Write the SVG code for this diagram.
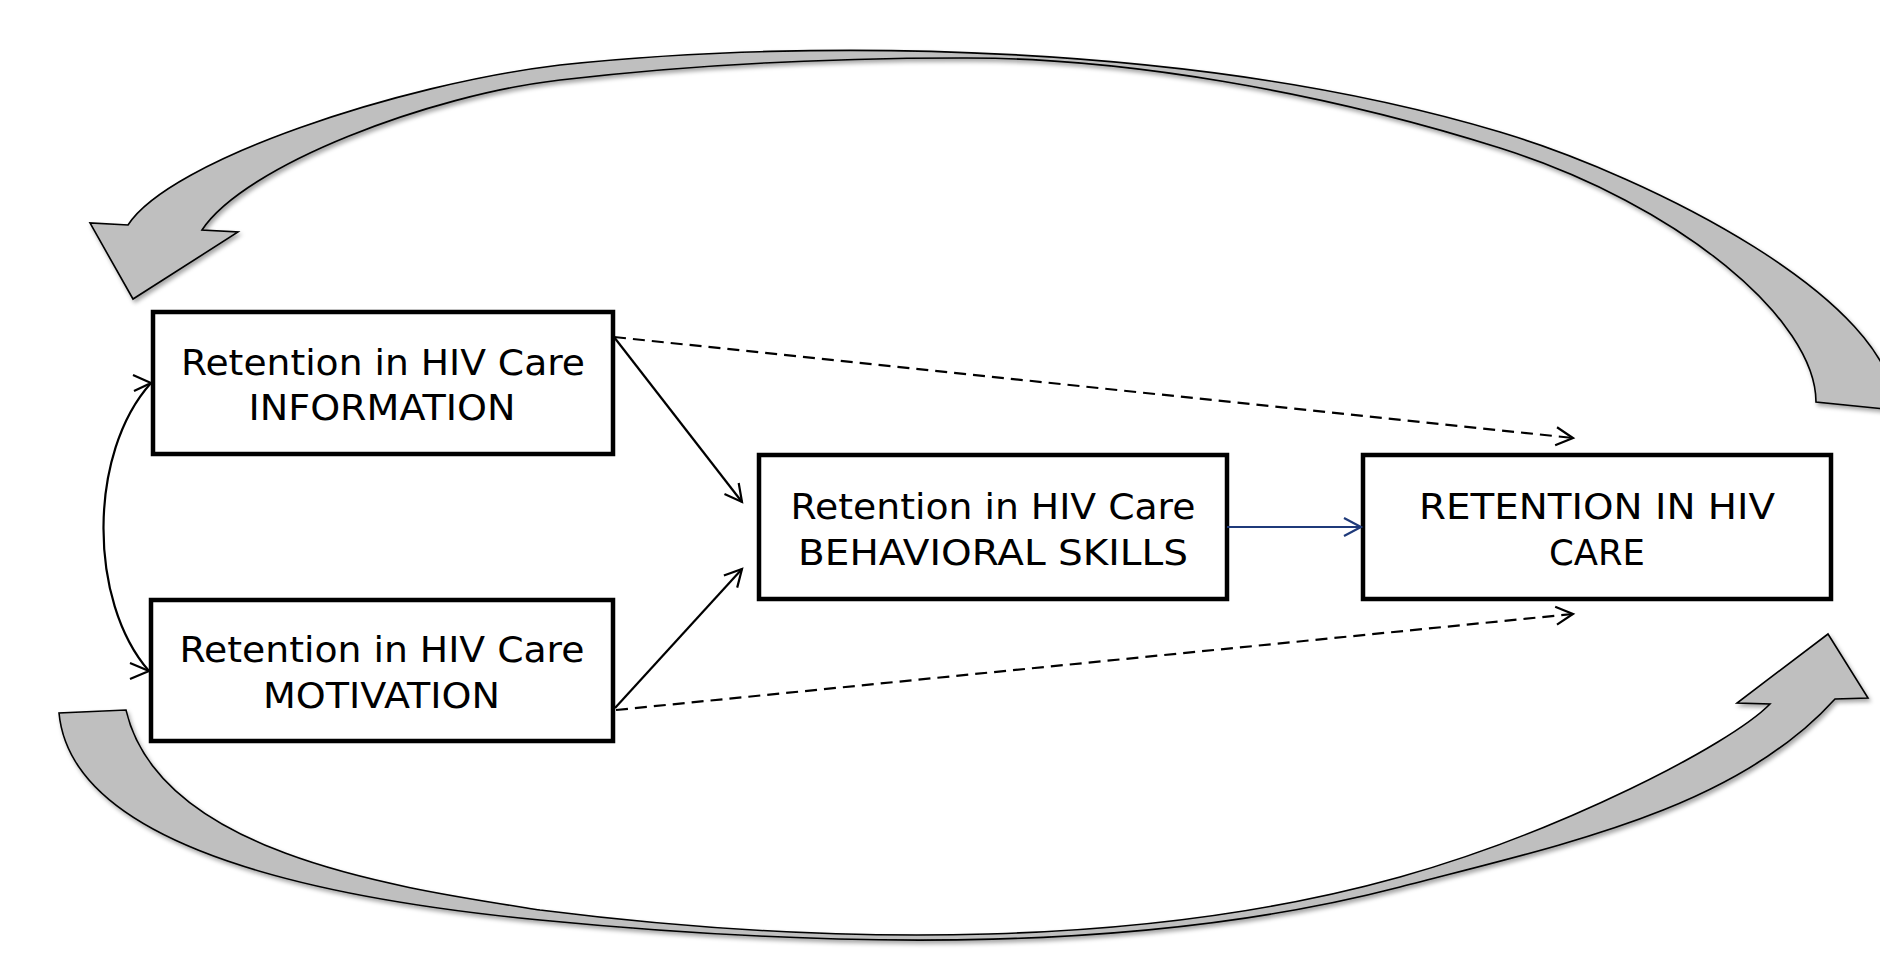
<svg xmlns="http://www.w3.org/2000/svg" width="1880" height="960" viewBox="0 0 1880 960">
<defs>
<style>
.box{fill:#fff;stroke:#000;stroke-width:4.5}
.lbl{font-family:'DejaVu Sans',Verdana,sans-serif;font-size:35px;fill:#000;text-anchor:middle}
.big{fill:#bfbfbf;stroke:#000;stroke-width:1.6;stroke-linejoin:miter;filter:url(#sh)}
.con{fill:none;stroke:#000;stroke-width:2.2}
.dash{stroke-dasharray:12 7}
.blue{stroke:#1f3a7a}
</style>
<filter id="sh" x="-5%" y="-5%" width="112%" height="120%">
<feDropShadow dx="2" dy="3" stdDeviation="2" flood-color="#000" flood-opacity="0.35"/>
</filter>
<marker id="ah" markerUnits="userSpaceOnUse" viewBox="-20 -12 24 24" refX="0" refY="0" markerWidth="24" markerHeight="24" orient="auto" overflow="visible">
<path d="M-17,-9 L0,0 L-17,9" fill="none" stroke="#000" stroke-width="2.2" stroke-dasharray="none"/>
</marker>
<marker id="ahb" markerUnits="userSpaceOnUse" viewBox="-20 -12 24 24" refX="0" refY="0" markerWidth="24" markerHeight="24" orient="auto" overflow="visible">
<path d="M-17,-9 L0,0 L-17,9" fill="none" stroke="#1f3a7a" stroke-width="2.2"/>
</marker>
</defs>

<g id="loop-arrows">
<path id="loop-top" class="big" d="M128,225 C170,160 400,84 560,65 C810,38 1200,42 1500,132 C1650,177 1895,300 1895,410 L1816,402 C1816,320 1680,205 1500,148 C1320,91 1120,57 960,58 C820,58 680,66 560,80 C430,95 245,165 202,230 L238,232 L133,299 L90,223 Z"/>
<path id="loop-bottom" class="big" d="M59,713 C70,830 260,893 540,920 C850,950 1150,952 1400,887 C1560,845 1735,810 1835,699 L1868,698 L1828,634 L1737,703 L1770,704 C1730,745 1560,832 1400,877 C1150,947 840,948 540,910 C400,888 160,855 126,710 Z"/>
</g>

<g id="node-information">
<rect class="box" x="153" y="312" width="460" height="142"/>
<text class="lbl" x="383" y="375" textLength="404" lengthAdjust="spacingAndGlyphs">Retention in HIV Care</text>
<text class="lbl" x="382" y="420" textLength="267" lengthAdjust="spacingAndGlyphs">INFORMATION</text>
</g>

<g id="node-motivation">
<rect class="box" x="151" y="600" width="462" height="141"/>
<text class="lbl" x="382" y="662" textLength="405" lengthAdjust="spacingAndGlyphs">Retention in HIV Care</text>
<text class="lbl" x="381.5" y="708" textLength="237" lengthAdjust="spacingAndGlyphs">MOTIVATION</text>
</g>

<g id="node-behavioral">
<rect class="box" x="759" y="455" width="468" height="144"/>
<text class="lbl" x="993" y="519" textLength="405" lengthAdjust="spacingAndGlyphs">Retention in HIV Care</text>
<text class="lbl" x="993" y="565" textLength="390" lengthAdjust="spacingAndGlyphs">BEHAVIORAL SKILLS</text>
</g>

<g id="node-retention">
<rect class="box" x="1363" y="455" width="468" height="144"/>
<text class="lbl" x="1597" y="519" textLength="356" lengthAdjust="spacingAndGlyphs">RETENTION IN HIV</text>
<text class="lbl" x="1597" y="565" textLength="96" lengthAdjust="spacingAndGlyphs">CARE</text>
</g>

<g id="connectors">
<path class="con" d="M151,383 C88,453 88,601 149,671"/>
<path class="con" d="M133,375 L151,383 L134,391"/>
<path class="con" d="M130,663 L149,671 L130,679"/>
<path class="con" d="M614,337 L742,502" marker-end="url(#ah)"/>
<path class="con" d="M615,708 L742,569" marker-end="url(#ah)"/>
<path class="con dash" d="M614,337 L1573,438" marker-end="url(#ah)"/>
<path class="con dash" d="M616,710 L1573,614" marker-end="url(#ah)"/>
<path class="con blue" d="M1227,527 L1361,527" marker-end="url(#ahb)"/>
</g>
</svg>
